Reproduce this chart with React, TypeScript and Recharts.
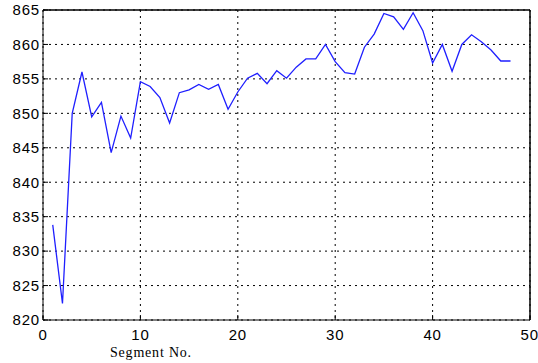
import React from "react";
import {
  LineChart,
  Line,
  XAxis,
  YAxis,
  CartesianGrid,
  ReferenceLine,
} from "recharts";

const segments = [
  1, 2, 3, 4, 5, 6, 7, 8, 9, 10, 11, 12, 13, 14, 15, 16, 17, 18, 19, 20, 21, 22,
  23, 24, 25, 26, 27, 28, 29, 30, 31, 32, 33, 34, 35, 36, 37, 38, 39, 40, 41,
  42, 43, 44, 45, 46, 47, 48,
];
const values = [
  833.8, 822.4, 850, 856, 849.5, 851.6, 844.3, 849.6, 846.4, 854.6, 853.9,
  852.3, 848.6, 853, 853.4, 854.2, 853.5, 854.2, 850.6, 853.1, 855.1, 855.8,
  854.3, 856.2, 855.1, 856.7, 857.9, 857.9, 860, 857.5, 855.9, 855.7, 859.6,
  861.5, 864.5, 864, 862.2, 864.6, 862, 857.3, 860, 856.1, 860, 861.4, 860.4,
  859.2, 857.6, 857.6,
];
const xTicks = [0, 10, 20, 30, 40, 50];
const yTicks = [820, 825, 830, 835, 840, 845, 850, 855, 860, 865];

const data = segments.map((s, i) => ({ seg: s, value: values[i] }));

const tickStyle = {
  fontFamily: "Arial, 'Liberation Sans', sans-serif",
  fontSize: 15,
  letterSpacing: 0.8,
  fill: "#000",
};

export default function App() {
  return (
    <div style={{ position: "absolute", left: 0, top: 0, width: 538, height: 363, background: "#fff" }}>
      <LineChart
        width={538}
        height={363}
        data={data}
        margin={{ top: 10, right: 8, bottom: 0, left: 0 }}
      >
        <CartesianGrid stroke="#000" strokeDasharray="2 4" />
        <XAxis
          dataKey="seg"
          type="number"
          domain={[0, 50]}
          ticks={xTicks}
          height={43}
          stroke="#000"
          tickSize={-5}
          tickMargin={14}
          tick={tickStyle}
        />
        <YAxis
          type="number"
          domain={[820, 865]}
          ticks={yTicks}
          width={43}
          stroke="#000"
          tickSize={-5}
          tickMargin={8}
          tick={tickStyle}
        />
        <ReferenceLine y={865} stroke="#000" strokeWidth={1.5} />
        <ReferenceLine x={50} stroke="#000" strokeWidth={1.5} />
        <Line
          dataKey="value"
          stroke="#1f1fff"
          strokeWidth={1.3}
          dot={false}
          isAnimationActive={false}
        />
      </LineChart>
      <div
        style={{
          position: "absolute",
          left: 110,
          top: 345,
          fontFamily: "'Liberation Serif', 'DejaVu Serif', serif",
          fontSize: 14,
          letterSpacing: 0.8,
          color: "#000",
        }}
      >
        Segment No.
      </div>
    </div>
  );
}
